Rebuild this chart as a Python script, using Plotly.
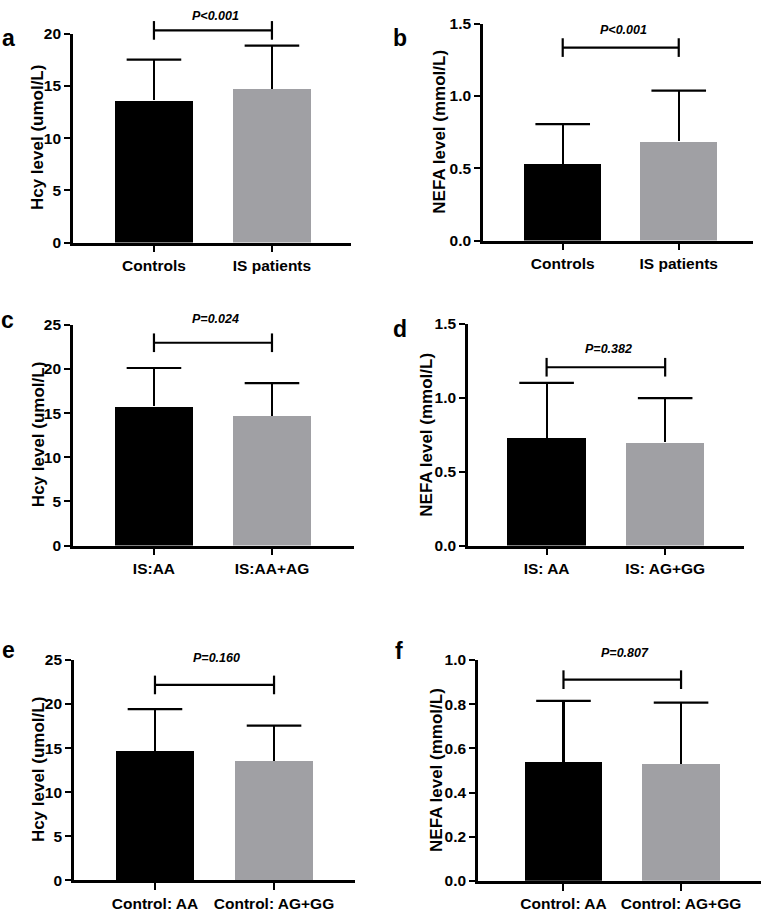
import plotly.graph_objects as go

# ---------------- data ----------------
cats_a = ["Controls", "IS patients"]
hcy_a_mean = [13.6, 14.7]
hcy_a_sd = [3.9, 4.15]

cats_b = ["Controls", "IS patients"]
nefa_b_mean = [0.53, 0.686]
nefa_b_sd = [0.276, 0.351]

cats_c = ["IS:AA", "IS:AA+AG"]
hcy_c_mean = [15.75, 14.7]
hcy_c_sd = [4.35, 3.7]

cats_d = ["IS: AA", "IS: AG+GG"]
nefa_d_mean = [0.73, 0.697]
nefa_d_sd = [0.37, 0.30]

cats_e = ["Control: AA", "Control: AG+GG"]
hcy_e_mean = [14.67, 13.48]
hcy_e_sd = [4.75, 4.08]

cats_f = ["Control: AA", "Control: AG+GG"]
nefa_f_mean = [0.538, 0.529]
nefa_f_sd = [0.277, 0.278]

p_labels = ["P<0.001", "P<0.001", "P=0.024", "P=0.382", "P=0.160", "P=0.807"]
bracket_levels = [20.3, 1.335, 22.96, 1.206, 22.17, 0.911]
p_text_levels = [21.7, 1.46, 25.7, 1.33, 25.2, 1.03]

hcy_title = "Hcy level (umol/L)"
nefa_title = "NEFA level (mmol/L)"
yticks_a = [0, 5, 10, 15, 20]
yticks_hcy = [0, 5, 10, 15, 20, 25]
yticks_nefa15 = [0.0, 0.5, 1.0, 1.5]
yticks_nefa10 = [0.0, 0.2, 0.4, 0.6, 0.8, 1.0]

# ---------------- layout ----------------
W, H = 762, 917
FONT = "Liberation Sans, Arial, sans-serif"
BAR_COLORS = ["#000000", "#a0a0a4"]

panels = [
    dict(letter="a", cats=cats_a, mean=hcy_a_mean, sd=hcy_a_sd, title=hcy_title,
         yt=yticks_a, fmt="d", px=(73, 351), py=(25, 238), xr=(-0.686, 1.67),
         tx=37, lx=8, ly=30),
    dict(letter="b", cats=cats_b, mean=nefa_b_mean, sd=nefa_b_sd, title=nefa_title,
         yt=yticks_nefa15, fmt=".1f", px=(483, 753), py=(15, 236), xr=(-0.687, 1.64),
         tx=439.5, lx=400, ly=30),
    dict(letter="c", cats=cats_c, mean=hcy_c_mean, sd=hcy_c_sd, title=hcy_title,
         yt=yticks_hcy, fmt="d", px=(73, 354), py=(321.7, 546.7), xr=(-0.686, 1.695),
         tx=38, lx=7, ly=317),
    dict(letter="d", cats=cats_d, mean=nefa_d_mean, sd=nefa_d_sd, title=nefa_title,
         yt=yticks_nefa15, fmt=".1f", px=(468, 744), py=(320.7, 546.7), xr=(-0.663, 1.665),
         tx=427, lx=400, ly=326),
    dict(letter="e", cats=cats_e, mean=hcy_e_mean, sd=hcy_e_sd, title=hcy_title,
         yt=yticks_hcy, fmt="d", px=(74, 355), py=(663.3, 887.7), xr=(-0.68, 1.68),
         tx=38, lx=8, ly=653),
    dict(letter="f", cats=cats_f, mean=nefa_f_mean, sd=nefa_f_sd, title=nefa_title,
         yt=yticks_nefa10, fmt=".1f", px=(478, 761), py=(663.3, 888.3), xr=(-0.727, 1.68),
         tx=436.5, lx=399, ly=654),
]

fig = go.Figure()
annotations = []
shapes = []
LW = 2.2

for i, p in enumerate(panels):
    n = i + 1
    xa = "x" if n == 1 else f"x{n}"
    ya = "y" if n == 1 else f"y{n}"
    xkey = "xaxis" if n == 1 else f"xaxis{n}"
    ykey = "yaxis" if n == 1 else f"yaxis{n}"

    # bars with upward-only error stems (no caps)
    fig.add_trace(go.Bar(
        x=p["cats"], y=p["mean"], xaxis=xa, yaxis=ya,
        width=0.66,
        marker=dict(color=BAR_COLORS, line=dict(width=0)),
        error_y=dict(type="data", array=p["sd"], arrayminus=[0] * len(p["sd"]),
                     symmetric=False, color="#000000", thickness=LW, width=0),
        showlegend=False, hoverinfo="skip",
    ))
    # caps at the top of the error stems
    fig.add_trace(go.Scatter(
        x=p["cats"], y=[m + s for m, s in zip(p["mean"], p["sd"])],
        xaxis=xa, yaxis=ya, mode="markers",
        marker=dict(symbol="line-ew-open", size=39, color="black",
                    line=dict(color="black", width=LW)),
        cliponaxis=False, showlegend=False, hoverinfo="skip",
    ))

    ytop = p["yt"][-1]
    xl, xr_ = p["px"]
    yt_px, yb_px = p["py"]
    fig.layout[xkey] = dict(
        domain=[xl / W, xr_ / W], anchor=ya, range=list(p["xr"]),
        type="category", showline=True, linecolor="black", linewidth=2.6,
        ticks="outside", ticklen=7, tickwidth=LW, tickcolor="black",
        tickfont=dict(family=FONT, size=15.5, color="black", weight="bold"),
        showgrid=False, zeroline=False, fixedrange=True,
    )
    fig.layout[ykey] = dict(
        domain=[1 - yb_px / H, 1 - yt_px / H], anchor=xa, range=[0, ytop],
        tickvals=p["yt"], tickformat=p["fmt"],
        showline=True, linecolor="black", linewidth=2.6,
        ticks="outside", ticklen=6, tickwidth=LW, tickcolor="black",
        tickfont=dict(family=FONT, size=15.5, color="black", weight="bold"),
        showgrid=False, zeroline=False, fixedrange=True,
    )

    # y-axis title
    annotations.append(dict(
        text=p["title"], xref="paper", yref="paper",
        x=p["tx"] / W, y=1 - (yt_px + yb_px) / 2 / H, textangle=-90,
        showarrow=False, xanchor="center", yanchor="middle",
        font=dict(family=FONT, size=17, color="black", weight="bold"),
    ))
    # panel letter
    annotations.append(dict(
        text=p["letter"], xref="paper", yref="paper",
        x=p["lx"] / W, y=1 - p["ly"] / H, showarrow=False,
        xanchor="center", yanchor="middle",
        font=dict(family=FONT, size=23, color="black", weight="bold"),
    ))
    # significance bracket
    lvl = bracket_levels[i] / ytop
    half = 9.5 / (yb_px - yt_px)
    ydom = f"{ya} domain"
    line = dict(color="black", width=LW)
    shapes.append(dict(type="line", xref=xa, yref=ydom, x0=0, x1=1, y0=lvl, y1=lvl, line=line))
    shapes.append(dict(type="line", xref=xa, yref=ydom, x0=0, x1=0, y0=lvl - half, y1=lvl + half, line=line))
    shapes.append(dict(type="line", xref=xa, yref=ydom, x0=1, x1=1, y0=lvl - half, y1=lvl + half, line=line))
    # p-value text
    annotations.append(dict(
        text=p_labels[i].replace("<", "&lt;"), xref=xa, yref=ydom,
        x=0.52, y=p_text_levels[i] / ytop, showarrow=False,
        xanchor="center", yanchor="middle",
        font=dict(family=FONT, size=12.5, color="black", weight="bold", style="italic"),
    ))

fig.update_layout(
    width=W, height=H, margin=dict(l=0, r=0, t=0, b=0),
    paper_bgcolor="white", plot_bgcolor="white",
    showlegend=False, bargap=0,
    annotations=annotations, shapes=shapes,
)

page_fix = (
    "document.documentElement.style.margin='0';"
    "document.documentElement.style.padding='0';"
    "document.documentElement.style.overflow='hidden';"
    "document.body.style.margin='0';"
    "document.body.style.padding='0';"
    "document.body.style.overflow='hidden';"
)
fig.write_html("out.html", config={"displayModeBar": False}, post_script=page_fix)
